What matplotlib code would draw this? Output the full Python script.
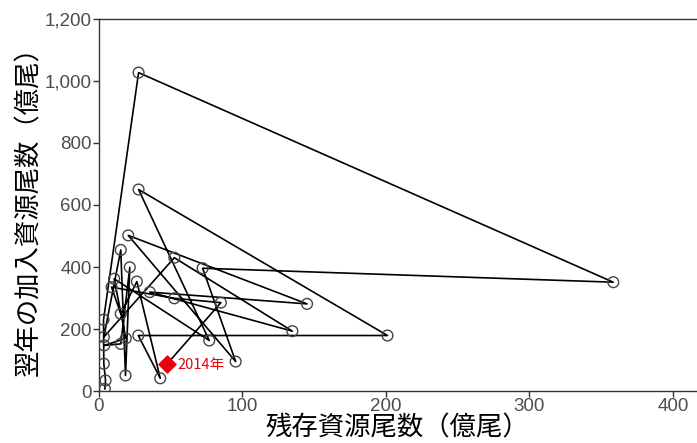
import matplotlib
matplotlib.use("Agg")
import matplotlib.pyplot as plt
from matplotlib.ticker import FuncFormatter

plt.rcParams['font.family'] = ['Noto Sans CJK JP', 'DejaVu Sans']

# 残存資源尾数 (億尾) and 翌年の加入資源尾数 (億尾), in year order
stock = [4.4, 4.9, 3.7, 3.5, 27.9, 358.4, 72.5, 95.5, 20.7, 145.2,
         35.7, 135.0, 52.8, 3.7, 15.5, 18.8, 21.8, 15.5, 4.0, 19.0,
         10.9, 77.1, 27.9, 201.2, 27.7, 43.0, 26.7, 15.5, 9.1, 52.8,
         85.2]
recruit = [7, 34, 88, 230, 1027, 351, 396, 95, 502, 281,
           319, 193, 430, 174, 455, 50, 399, 152, 147, 170,
           362, 163, 650, 179, 179, 41, 353, 249, 335, 299,
           285]
last_year = "2014年"
last_stock = 47.9
last_recruit = 88

fig = plt.figure(figsize=(6.97, 4.43), dpi=100)
ax = fig.add_axes([98.5 / 697, 52 / 443, 1 - 98.5 / 697, (391 - 19) / 443])

# path through the years, ending at the latest point
xs = stock + [last_stock]
ys = recruit + [last_recruit]
ax.plot(xs, ys, color='black', lw=1.2, zorder=2)
ax.scatter(stock, recruit, s=60, facecolors='none', edgecolors='#444444',
           linewidths=1.0, zorder=3)
ax.scatter([last_stock], [last_recruit], marker='D', s=75, color='#e8000b',
           edgecolors='#e8000b', zorder=4)
ax.annotate(last_year, (last_stock, last_recruit), xytext=(7, -1),
            textcoords='offset points', color='#e8000b', fontsize=10.5,
            va='center', ha='left')

ax.set_xlim(0, 416.7)
ax.set_ylim(0, 1200)
ax.set_xticks([0, 100, 200, 300, 400])
ax.set_yticks([0, 200, 400, 600, 800, 1000, 1200])
ax.yaxis.set_major_formatter(FuncFormatter(lambda v, p: f"{int(v):,}"))

for side in ['left', 'bottom', 'top']:
    ax.spines[side].set_color('#333333')
    ax.spines[side].set_linewidth(1.0)
ax.spines['right'].set_visible(False)
ax.tick_params(direction='out', length=4, width=1.0, color='#333333',
               labelcolor='#4d4d4d', labelsize=13.5, pad=1)
for lab in ax.get_xticklabels() + ax.get_yticklabels():
    lab.set_family(['Liberation Sans', 'DejaVu Sans'])

ax.set_xlabel("残存資源尾数（億尾）", fontsize=19, labelpad=0)
ax.set_ylabel("翌年の加入資源尾数（億尾）", fontsize=19, labelpad=2)

fig.savefig("out.png", dpi=100)
